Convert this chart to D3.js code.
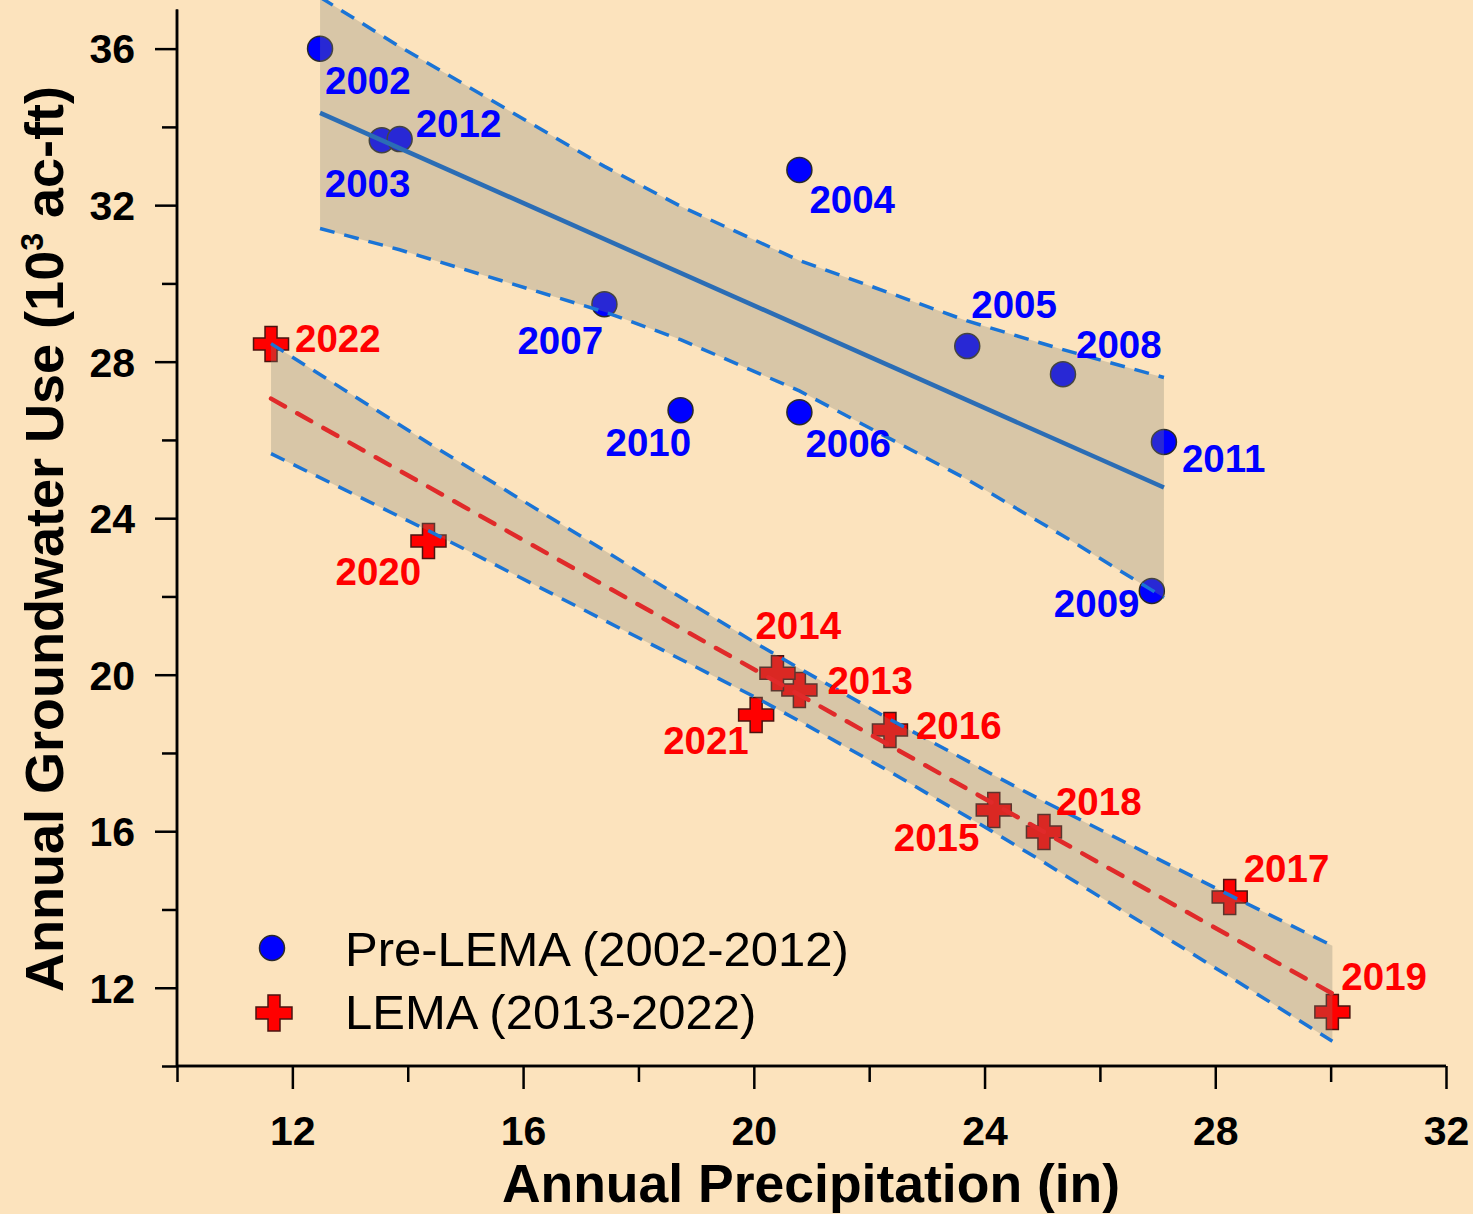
<!DOCTYPE html>
<html>
<head>
<meta charset="utf-8">
<script src="https://cdn.jsdelivr.net/npm/d3@7"></script>
<style>
  html, body { margin: 0; padding: 0; background: #fce3bd; }
  svg { display: block; }
  text { font-family: "Liberation Sans", Arial, sans-serif; }
</style>
</head>
<body>
<div id="chart"></div>
<script>
// ---------------- DATA ----------------
const preYears   = [2002, 2003, 2004, 2005, 2006, 2007, 2008, 2009, 2010, 2011, 2012];
const prePrecip  = [12.48, 13.55, 20.79, 23.70, 20.79, 17.41, 25.36, 26.90, 18.73, 27.11, 13.86];
const preUse     = [36.00, 33.66, 32.90, 28.40, 26.71, 29.47, 27.68, 22.14, 26.76, 25.95, 33.69];

const lemaYears  = [2013, 2014, 2015, 2016, 2017, 2018, 2019, 2020, 2021, 2022];
const lemaPrecip = [20.79, 20.41, 24.16, 22.36, 28.25, 25.03, 30.03, 14.36, 20.04, 11.63];
const lemaUse    = [19.61, 20.04, 16.54, 18.59, 14.32, 15.98, 11.38, 23.42, 18.97, 28.45];

const xTicksMajor = [12, 16, 20, 24, 28, 32];
const xTicksMinor = [10, 14, 18, 22, 26, 30];
const yTicksMajor = [12, 16, 20, 24, 28, 32, 36];
const yTicksMinor = [10, 14, 18, 22, 26, 30, 34];

const legendLabels = ["Pre-LEMA (2002-2012)", "LEMA (2013-2022)"];
const xTitle = "Annual Precipitation (in)";

// Student t (two-sided 95%) by degrees of freedom
const tTable = {8: 2.306, 9: 2.262};

// ---------------- LAYOUT ----------------
const W = 1473, H = 1214;
const bg = "#fce3bd";
const svg = d3.select("#chart").append("svg").attr("width", W).attr("height", H);
svg.append("rect").attr("width", W).attr("height", H).attr("fill", bg);

const x = d3.scaleLinear().domain([10, 32]).range([177, 1446]);
const y = d3.scaleLinear().domain([10, 37]).range([1066, 9.5]);

// label offsets (px) relative to marker centre: [dx, dy to baseline]
const labelOffsets = {
  2002: [5, 45], 2003: [-57, 57], 2012: [16, -2], 2004: [10, 43], 2007: [-87, 50],
  2005: [4, -28], 2008: [13, -16], 2010: [-75, 46], 2006: [6, 45], 2011: [18, 30],
  2009: [-98, 26],
  2022: [24, 8], 2020: [-93, 44], 2014: [-22, -34], 2013: [28, 4], 2021: [-93, 39],
  2016: [26, 9], 2015: [-100, 41], 2018: [12, -17], 2017: [14, -15], 2019: [9, -22]
};

function fitStats(xs, ys) {
  const n = xs.length;
  const mx = d3.mean(xs), my = d3.mean(ys);
  let sxx = 0, sxy = 0;
  xs.forEach((v, i) => { sxx += (v - mx) ** 2; sxy += (v - mx) * (ys[i] - my); });
  const b = sxy / sxx, a = my - b * mx;
  let sse = 0;
  xs.forEach((v, i) => { sse += (ys[i] - (a + b * v)) ** 2; });
  const s = Math.sqrt(sse / (n - 2));
  const t = tTable[n - 2];
  const xsSorted = xs.slice().sort((p, q) => p - q);
  const band = xsSorted.map(v => {
    const yh = a + b * v;
    const hw = t * s * Math.sqrt(1 / n + (v - mx) ** 2 / sxx);
    return {x: v, yh, lo: yh - hw, hi: yh + hw};
  });
  return {a, b, band, xmin: xsSorted[0], xmax: xsSorted[n - 1]};
}

const preFit = fitStats(prePrecip, preUse);
const lemaFit = fitStats(lemaPrecip, lemaUse);

const plusPath = (s, w) => {
  const h = s / 2, k = w / 2;
  return `M${-k},${-h}H${k}V${-k}H${h}V${k}H${k}V${h}H${-k}V${k}H${-h}V${-k}H${-k}Z`;
};

// ---------------- MARKERS ----------------
const gMarks = svg.append("g");
preYears.forEach((yr, i) => {
  gMarks.append("circle")
    .attr("cx", x(prePrecip[i])).attr("cy", y(preUse[i])).attr("r", 12.5)
    .attr("fill", "#0000ff").attr("stroke", "#2a2a2a").attr("stroke-width", 1.5);
});
lemaYears.forEach((yr, i) => {
  gMarks.append("path")
    .attr("d", plusPath(35, 12))
    .attr("transform", `translate(${x(lemaPrecip[i])},${y(lemaUse[i])})`)
    .attr("fill", "#ff0000").attr("stroke", "#4a1410").attr("stroke-width", 1.5);
});

// ---------------- BANDS & LINES ----------------
const area = d3.area().x(d => x(d.x)).y0(d => y(d.lo)).y1(d => y(d.hi));
const lineHi = d3.line().x(d => x(d.x)).y(d => y(d.hi));
const lineLo = d3.line().x(d => x(d.x)).y(d => y(d.lo));

[preFit, lemaFit].forEach(f => {
  svg.append("path").attr("d", area(f.band))
    .attr("fill", "rgb(134,133,117)").attr("fill-opacity", 0.3).attr("stroke", "none");
});
[preFit, lemaFit].forEach(f => {
  [lineHi, lineLo].forEach(L => {
    svg.append("path").attr("d", L(f.band)).attr("fill", "none")
      .attr("stroke", "#1a74d6").attr("stroke-width", 3.5)
      .attr("stroke-dasharray", "15,10");
  });
});

svg.append("line")
  .attr("x1", x(preFit.xmin)).attr("y1", y(preFit.a + preFit.b * preFit.xmin))
  .attr("x2", x(preFit.xmax)).attr("y2", y(preFit.a + preFit.b * preFit.xmax))
  .attr("stroke", "#2b6db5").attr("stroke-width", 4.5);

svg.append("line")
  .attr("x1", x(lemaFit.xmin)).attr("y1", y(lemaFit.a + lemaFit.b * lemaFit.xmin))
  .attr("x2", x(lemaFit.xmax)).attr("y2", y(lemaFit.a + lemaFit.b * lemaFit.xmax))
  .attr("stroke", "#e02a2a").attr("stroke-width", 4.5)
  .attr("stroke-dasharray", "16,14").attr("stroke-linecap", "round");

// ---------------- LABELS ----------------
const gLab = svg.append("g").attr("font-size", 38.5).attr("font-weight", "bold");
preYears.forEach((yr, i) => {
  const o = labelOffsets[yr];
  gLab.append("text").attr("x", x(prePrecip[i]) + o[0]).attr("y", y(preUse[i]) + o[1])
    .attr("fill", "#0000ff").text(yr);
});
lemaYears.forEach((yr, i) => {
  const o = labelOffsets[yr];
  gLab.append("text").attr("x", x(lemaPrecip[i]) + o[0]).attr("y", y(lemaUse[i]) + o[1])
    .attr("fill", "#ff0000").text(yr);
});

// ---------------- AXES ----------------
const gx = svg.append("g").attr("transform", `translate(0,${y(10)})`);
gx.call(d3.axisBottom(x).tickValues(xTicksMajor).tickSize(23).tickFormat(d3.format("d")));
gx.call(g => g.append("g").call(d3.axisBottom(x).tickValues(xTicksMinor).tickSize(16).tickFormat("")));
gx.selectAll("path.domain").attr("stroke", "#000").attr("stroke-width", 2.5);
gx.selectAll(".tick line").attr("stroke", "#000").attr("stroke-width", 2.5);
gx.selectAll(".tick text").attr("font-size", 41).attr("font-weight", "bold")
  .attr("fill", "#000").attr("dy", 0).attr("y", 79)
  .style("font-family", '"Liberation Sans", Arial, sans-serif');
gx.selectAll("path.domain").attr("d", `M${x(10)},0H${x(32)}`);

const gy = svg.append("g").attr("transform", `translate(${x(10)},0)`);
gy.call(d3.axisLeft(y).tickValues(yTicksMajor).tickSize(22).tickFormat(d3.format("d")));
gy.call(g => g.append("g").call(d3.axisLeft(y).tickValues(yTicksMinor).tickSize(15).tickFormat("")));
gy.selectAll("path.domain").attr("stroke", "#000").attr("stroke-width", 2.5)
  .attr("d", `M0,${y(10)}V${y(37)}`);
gy.selectAll(".tick line").attr("stroke", "#000").attr("stroke-width", 2.5);
gy.selectAll(".tick text").attr("font-size", 41).attr("font-weight", "bold")
  .attr("fill", "#000").attr("x", -42).attr("dy", "0.35em")
  .style("font-family", '"Liberation Sans", Arial, sans-serif');

// axis titles
svg.append("text").attr("x", 811).attr("y", 1202).attr("text-anchor", "middle")
  .attr("font-size", 53.5).attr("font-weight", "bold").attr("fill", "#000").text(xTitle);

const yt = svg.append("text").attr("transform", "translate(63,539) rotate(-90)")
  .attr("text-anchor", "middle").attr("font-size", 54).attr("font-weight", "bold").attr("fill", "#000");
yt.append("tspan").text("Annual Groundwater Use (10");
yt.append("tspan").text("3").attr("font-size", 32).attr("dy", -20);
yt.append("tspan").text(" ac-ft)").attr("dy", 20);

// ---------------- LEGEND ----------------
svg.append("circle").attr("cx", 272).attr("cy", 948).attr("r", 12.5)
  .attr("fill", "#0000ff").attr("stroke", "#2a2a2a").attr("stroke-width", 1.5);
svg.append("path").attr("d", plusPath(36, 12)).attr("transform", "translate(274,1013)")
  .attr("fill", "#ff0000").attr("stroke", "#4a1410").attr("stroke-width", 1.5);
svg.append("text").attr("x", 345).attr("y", 966).attr("font-size", 49).attr("fill", "#000").text(legendLabels[0]);
svg.append("text").attr("x", 345).attr("y", 1029).attr("font-size", 49).attr("fill", "#000").text(legendLabels[1]);
</script>
</body>
</html>
